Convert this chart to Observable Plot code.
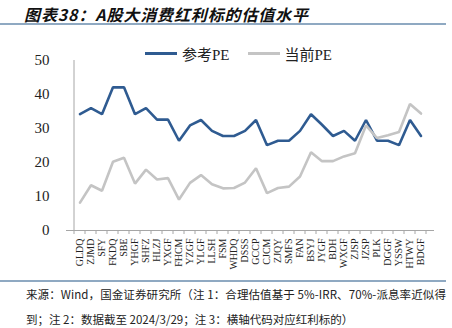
<!DOCTYPE html>
<html><head><meta charset="utf-8">
<script src="https://cdn.jsdelivr.net/npm/d3@7"></script>
<script src="https://cdn.jsdelivr.net/npm/@observablehq/plot@0.6"></script>
<style>
body{margin:0;width:452px;height:328px;background:#fff;position:relative;overflow:hidden;font-family:"Noto Sans CJK SC",sans-serif;}
#title{position:absolute;left:24px;top:2px;font-size:16px;font-weight:bold;font-style:italic;letter-spacing:0px;color:#111;white-space:nowrap;}
.rule{position:absolute;left:0;width:446px;height:1.5px;background:#8fa9c2;}
#legend{position:absolute;top:41px;left:145px;height:20px;font-size:15px;color:#222;white-space:nowrap;}
.sw{display:inline-block;width:32px;height:3px;vertical-align:middle;margin-right:5px;}
.lab{display:inline-block;vertical-align:middle;font-family:"Liberation Serif","Noto Sans CJK SC",serif;}
#chart{position:absolute;left:0;top:40px;}
.foot{position:absolute;left:26px;font-size:11.5px;color:#222;white-space:nowrap;}
</style></head>
<body>
<div id="title">图表38：A股大消费红利标的估值水平</div>
<div class="rule" style="top:23px"></div>
<div id="legend"></div>
<div id="chart"></div>
<div class="rule" style="top:280px"></div>
<div class="foot" id="f1" style="top:286px">来源：Wind，国金证券研究所（注 1：合理估值基于 5%-IRR、70%-派息率近似得</div>
<div class="foot" id="f2" style="top:311px">到；注 2：数据截至 2024/3/29；注 3：横轴代码对应红利标的）</div>
<script>
const codes = ["GLDQ","ZJMD","SFY","FKDQ","SBE","YHGF","SHFZ","HLZJ","YXGF","FHCM","YZGF","YLGF","LLSH","FSM","WHDQ","DSSS","GCCP","CJCM","ZJQY","SMFS","FAN","BSYJ","JYGF","BDH","WXGF","ZJSP","JZSP","PLK","DGGF","YSSW","HTWY","BDGF"];
const refPE = [34.2,36.0,34.2,42.1,42.1,34.2,36.0,32.6,32.6,26.4,30.9,32.5,29.3,27.8,27.8,29.3,32.5,25.1,26.4,26.4,29.3,34.2,31.1,27.8,29.3,26.4,32.5,26.4,26.4,25.1,32.5,27.8];
const curPE = [8.2,13.3,11.7,20.2,21.4,13.8,17.9,15.0,15.4,9.1,14.0,16.3,13.6,12.4,12.5,14.1,18.3,11.0,12.5,12.9,15.9,23.0,20.4,20.4,21.8,22.7,30.9,27.2,28.0,29.0,37.2,34.4];
const seriesNames = ["参考PE","当前PE"];
const seriesColors = ["#2f5b91","#c4c4c4"];
const yTicks = [0,10,20,30,40,50];

// fit text widths to the reference layout
function fit(id, right){
  const el = document.getElementById(id);
  const r = el.getBoundingClientRect();
  const n = el.textContent.length;
  const ls = ((right - r.left) - r.width) / n;
  el.style.letterSpacing = ls + "px";
}
fit("title", 309);
fit("f1", 446);

const rows = [];
codes.forEach((c,i)=>{
  rows.push({code:c, s:seriesNames[0], v:refPE[i]});
  rows.push({code:c, s:seriesNames[1], v:curPE[i]});
});

// legend
const lg = document.getElementById("legend");
seriesNames.forEach((n,i)=>{
  const sp = document.createElement("span");
  sp.style.marginRight = i===0 ? "18px" : "0";
  sp.innerHTML = `<span class="sw" style="background:${seriesColors[i]}"></span><span class="lab">${n}</span>`;
  lg.appendChild(sp);
});

const axisColor = "#a6a6a6";
const plot = Plot.plot({
  width: 452, height: 232,
  marginLeft: 66, marginRight: 18, marginTop: 20, marginBottom: 42,
  style: {fontFamily: "'Liberation Serif','Times New Roman',serif", color: "#222", background: "transparent"},
  x: {type: "band", domain: codes, padding: 0, label: null},
  y: {domain: [0,50], label: null},
  color: {domain: seriesNames, range: seriesColors},
  marks: [
    Plot.axisY({ticks: yTicks, tickSize: 0, tickPadding: 17, fontSize: 15, label: null}),
    Plot.axisX({tickSize: 0, tickRotate: -90, tickPadding: 8, fontSize: 10, label: null}),
    Plot.ruleY([0], {stroke: axisColor, strokeWidth: 1}),
    (index, scales, values, dim) => {
      const g = d3.create("svg:g");
      const x = scales.x, bw = x.bandwidth ? x.bandwidth() : 0;
      const y0 = scales.y(0), y1 = scales.y(50);
      const left = x(codes[0]);
      g.append("line").attr("x1", left).attr("x2", left).attr("y1", y0).attr("y2", y1).attr("stroke", axisColor);
      const edges = codes.map(c => x(c)).concat([x(codes[codes.length-1]) + bw]);
      edges.forEach(e => g.append("line").attr("x1", e).attr("x2", e).attr("y1", y0).attr("y2", y0 + 4).attr("stroke", axisColor));
      return g.node();
    },
    Plot.line(rows, {x: "code", y: "v", z: "s", stroke: "s", strokeWidth: 2.6, strokeLinejoin: "miter", curve: "linear"})
  ]
});
document.getElementById("chart").appendChild(plot);
</script>
</body></html>
